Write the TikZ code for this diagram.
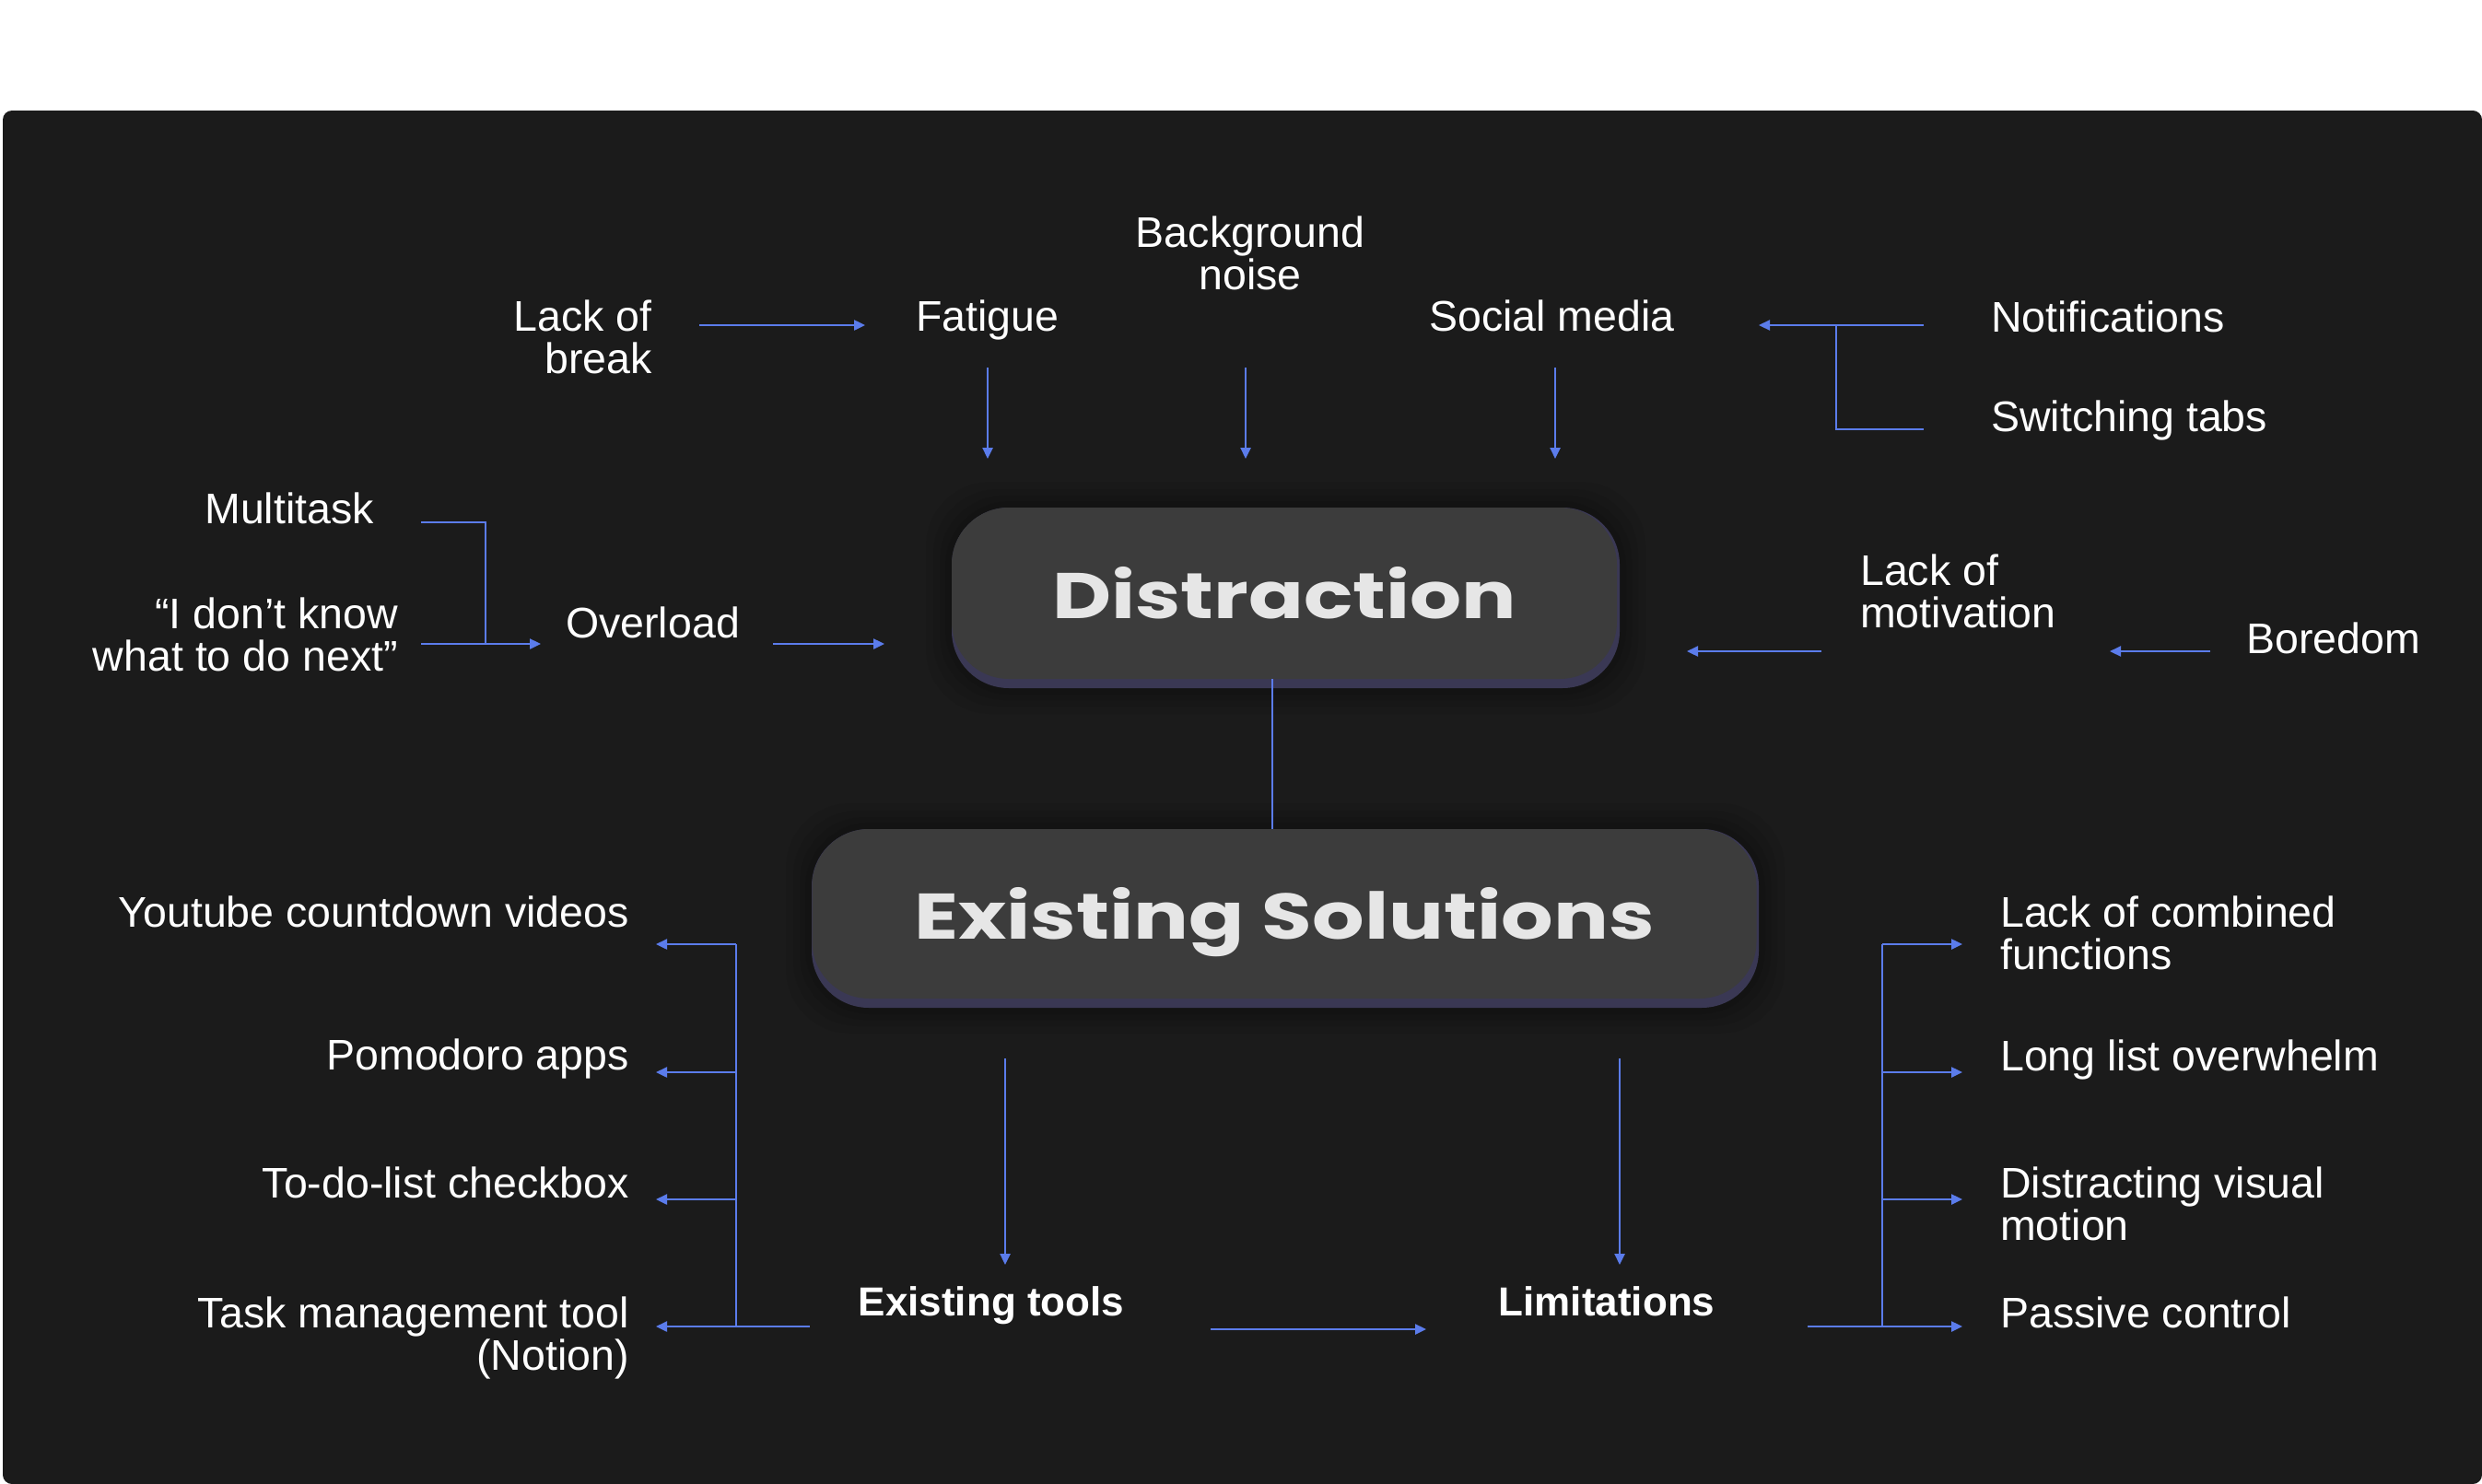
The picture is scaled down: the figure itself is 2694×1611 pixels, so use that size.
\documentclass[tikz,border=0pt]{standalone}
\usepackage{fontspec}
\setmainfont{Liberation Sans}
\newfontfamily\titlefont{Poppins}
\usetikzlibrary{arrows.meta}

\definecolor{bgdark}{HTML}{1B1B1B}
\definecolor{boxgray}{HTML}{3C3C3C}
\definecolor{boxtint}{HTML}{3A3854}
\definecolor{flowblue}{HTML}{5B7CEB}
\definecolor{titlewhite}{HTML}{E6E6E6}

\tikzset{
  txt/.style={text=white, inner sep=0pt, font=\fontsize{46.5}{46}\selectfont},
  txtbold/.style={txt, font=\fontsize{44}{46}\selectfont\bfseries},
  link/.style={draw=flowblue, line width=2.4pt},
  flow/.style={link, -{Triangle[length=12pt,width=11pt]}},
  hub/.style={fill=boxgray, rounded corners=62pt, inner sep=0pt,
    text=titlewhite, font=\titlefont\bfseries\fontsize{70}{70}\selectfont}
}

\begin{document}
\begin{tikzpicture}[x=1pt, y=-1pt]
  \useasboundingbox (0,0) rectangle (2694,1611);
  % page and dark panel
  \fill[white] (0,0) rectangle (2694,120);
  \fill[bgdark, rounded corners=10pt] (3,120) rectangle (2694,1611);

  % hub boxes (halo + tinted lower edge)
  \foreach \g in {28,20,13,7} {
    \fill[black, opacity=0.05, rounded corners=70pt] (1033-\g,551-\g) rectangle (1758+\g,747+\g);
    \fill[black, opacity=0.05, rounded corners=70pt] (881-\g,900-\g) rectangle (1909+\g,1094+\g);
  }
  \fill[boxtint, rounded corners=62pt] (1033,551) rectangle (1758,747);
  \fill[boxtint, rounded corners=62pt] (881,900) rectangle (1909,1094);
  \node[hub, minimum width=722pt, minimum height=186pt] (distraction) at (1394,644) {\scalebox{1.26}[1]{Distraction}};
  \node[hub, minimum width=1025pt, minimum height=184pt] (solutions) at (1394,992) {\raisebox{-9pt}[\height][\depth]{\scalebox{1.27}[1]{Existing Solutions}}};

  % causes, top row
  \node[txt, anchor=base east, align=right] (lackbreak) at (708,405) {Lack of\\break};
  \node[txt, anchor=base west] (fatigue) at (994,359) {Fatigue};
  \node[txt, anchor=base, align=center] (bgnoise) at (1357,314) {Background\\noise};
  \node[txt, anchor=base west] (social) at (1551,359) {Social media};
  \node[txt, anchor=base west] (notif) at (2161,360) {Notifications};
  \node[txt, anchor=base west] (switching) at (2161,468) {Switching tabs};

  % causes, left and right
  \node[txt, anchor=base east] (multitask) at (406,568) {Multitask};
  \node[txt, anchor=base east, align=right] (dontknow) at (432,728) {“I don’t know\\what to do next”};
  \node[txt, anchor=base west] (overload) at (614,692) {Overload};
  \node[txt, anchor=base west, align=left] (motivation) at (2019,681) {Lack of\\motivation};
  \node[txt, anchor=base west] (boredom) at (2438,709) {Boredom};

  % bottom branch
  \node[txtbold, anchor=base] (tools) at (1076,1428) {Existing tools};
  \node[txtbold, anchor=base] (limits) at (1744,1428) {Limitations};
  \node[txt, anchor=base east] (youtube) at (683,1006) {Youtube countdown videos};
  \node[txt, anchor=base east] (pomodoro) at (683,1161) {Pomodoro apps};
  \node[txt, anchor=base east] (todo) at (683,1300) {To-do-list checkbox};
  \node[txt, anchor=base east, align=right] (taskmgmt) at (683,1487) {Task management tool\\(Notion)};
  \node[txt, anchor=base west, align=left] (combined) at (2171,1052) {Lack of combined\\functions};
  \node[txt, anchor=base west] (longlist) at (2171,1162) {Long list overwhelm};
  \node[txt, anchor=base west, align=left] (visual) at (2171,1346) {Distracting visual\\motion};
  \node[txt, anchor=base west] (passive) at (2171,1441) {Passive control};

  % connector ends
  \coordinate (lb-a) at (759,353);   \coordinate (lb-b) at (939,353);
  \coordinate (fa-a) at (1072,399);  \coordinate (fa-b) at (1072,498);
  \coordinate (bn-a) at (1352,399);  \coordinate (bn-b) at (1352,498);
  \coordinate (sm-a) at (1688,399);  \coordinate (sm-b) at (1688,498);
  \coordinate (nt-a) at (2088,353);  \coordinate (nt-b) at (1909,353);
  \coordinate (nt-j) at (1993,353);  \coordinate (sw-a) at (2088,466);
  \coordinate (mt-a) at (457,567);   \coordinate (mt-j) at (527,699);
  \coordinate (dk-a) at (457,699);   \coordinate (dk-b) at (587,699);
  \coordinate (ov-a) at (839,699);   \coordinate (ov-b) at (960,699);
  \coordinate (mo-a) at (1977,707);  \coordinate (mo-b) at (1831,707);
  \coordinate (bo-a) at (2399,707);  \coordinate (bo-b) at (2290,707);
  \coordinate (to-a) at (1091,1149); \coordinate (to-b) at (1091,1373);
  \coordinate (li-a) at (1758,1149); \coordinate (li-b) at (1758,1373);
  \coordinate (tl-a) at (1314,1443); \coordinate (tl-b) at (1548,1443);
  \coordinate (lt-a) at (879,1440);  \coordinate (lt-j) at (799,1440);
  \coordinate (rt-a) at (1962,1440); \coordinate (rt-j) at (2043,1440);

  % top arrows
  \draw[flow] (lb-a) -- (lb-b);
  \draw[flow] (fa-a) -- (fa-b);
  \draw[flow] (bn-a) -- (bn-b);
  \draw[flow] (sm-a) -- (sm-b);
  \draw[flow] (nt-a) -- (nt-b);
  \draw[link] (nt-j) |- (sw-a);
  \draw[link] (mt-a) -| (mt-j);
  \draw[flow] (dk-a) -- (dk-b);
  \draw[flow] (ov-a) -- (ov-b);
  \draw[flow] (mo-a) -- (mo-b);
  \draw[flow] (bo-a) -- (bo-b);
  \draw[link] ([xshift=-13pt]distraction.south) -- ([xshift=-13pt]solutions.north);

  % bottom arrows
  \draw[flow] (to-a) -- (to-b);
  \draw[flow] (li-a) -- (li-b);
  \draw[flow] (tl-a) -- (tl-b);
  \foreach \y in {1025,1164,1302} {
    \draw[flow] (799,\y) -- (712,\y);
    \draw[flow] (2043,\y) -- (2130,\y);
  }
  \draw[flow] (lt-a) -- (712,1440);
  \draw[link] (799,1025) -- (lt-j);
  \draw[flow] (rt-a) -- (2130,1440);
  \draw[link] (2043,1025) -- (rt-j);
\end{tikzpicture}
\end{document}
